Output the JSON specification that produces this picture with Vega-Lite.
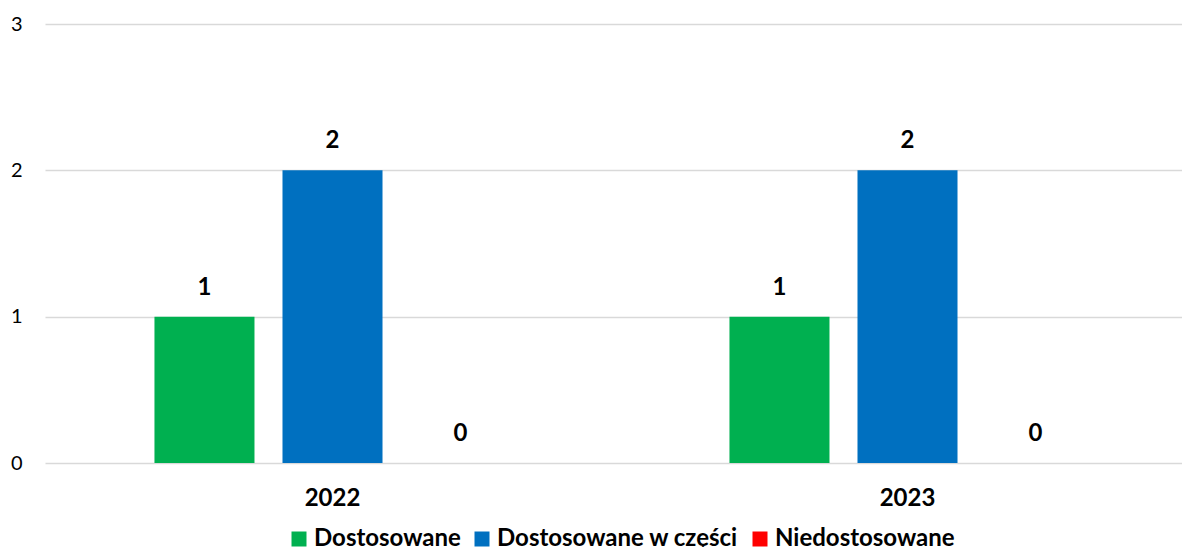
{
  "$schema": "https://vega.github.io/schema/vega-lite/v6.json",
  "width": 1137,
  "height": 439,
  "autosize": {"type": "none"},
  "padding": {"left": 45, "top": 24, "right": 0, "bottom": 84},
  "background": "white",
  "config": {
    "view": {"stroke": null},
    "font": "Lato"
  },
  "data": {
    "values": [
      {"rok": "2022", "kategoria": "Dostosowane", "wartosc": 1},
      {"rok": "2022", "kategoria": "Dostosowane w części", "wartosc": 2},
      {"rok": "2022", "kategoria": "Niedostosowane", "wartosc": 0},
      {"rok": "2023", "kategoria": "Dostosowane", "wartosc": 1},
      {"rok": "2023", "kategoria": "Dostosowane w części", "wartosc": 2},
      {"rok": "2023", "kategoria": "Niedostosowane", "wartosc": 0}
    ]
  },
  "encoding": {
    "x": {
      "field": "rok",
      "type": "nominal",
      "scale": {"range": [0, 1150], "paddingInner": 0, "paddingOuter": 0},
      "axis": {
        "title": null,
        "domain": false,
        "ticks": false,
        "tickSize": 0,
        "labelAngle": 0,
        "labelFont": "Lato",
        "labelFontSize": 24,
        "labelFontWeight": "bold",
        "labelColor": "#000000",
        "labelBaseline": "middle",
        "labelPadding": 35
      }
    },
    "xOffset": {
      "field": "kategoria",
      "sort": ["Dostosowane", "Dostosowane w części", "Niedostosowane"],
      "scale": {"paddingInner": 0.21875, "paddingOuter": 0.855}
    },
    "y": {
      "field": "wartosc",
      "type": "quantitative",
      "scale": {"domain": [0, 3], "nice": false},
      "axis": {
        "title": null,
        "values": [0, 1, 2, 3],
        "domain": false,
        "ticks": false,
        "tickSize": 0,
        "grid": true,
        "gridColor": "#d9d9d9",
        "gridWidth": 1.5,
        "labelFont": "Lato",
        "labelFontSize": 20,
        "labelColor": "#000000",
        "labelPadding": 23
      }
    }
  },
  "layer": [
    {
      "mark": {"type": "bar"},
      "encoding": {
        "color": {
          "field": "kategoria",
          "type": "nominal",
          "sort": ["Dostosowane", "Dostosowane w części", "Niedostosowane"],
          "scale": {
            "domain": ["Dostosowane", "Dostosowane w części", "Niedostosowane"],
            "range": ["#00B050", "#0070C0", "#FF0000"]
          },
          "legend": {
            "title": null,
            "orient": "none",
            "direction": "horizontal",
            "legendX": 242,
            "legendY": 503,
            "symbolType": "square",
            "symbolSize": 225,
            "symbolStrokeWidth": 0,
            "symbolOpacity": 1,
            "labelFont": "Lato",
            "labelFontSize": 24,
            "labelFontWeight": "bold",
            "labelColor": "#000000",
            "labelOffset": 3,
            "columnPadding": 9,
            "labelLimit": 400,
            "padding": 0
          }
        }
      }
    },
    {
      "mark": {
        "type": "text",
        "font": "Lato",
        "fontSize": 24,
        "fontWeight": "bold",
        "color": "#000000",
        "baseline": "middle",
        "dy": -29
      },
      "encoding": {
        "text": {"field": "wartosc", "type": "quantitative"}
      }
    }
  ]
}
